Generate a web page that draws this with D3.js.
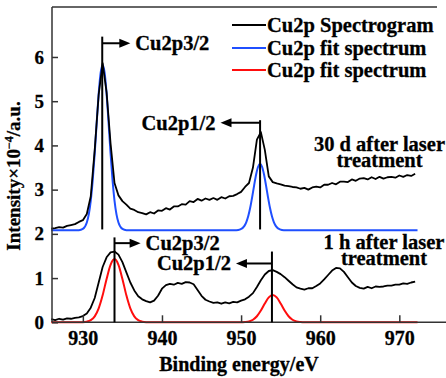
<!DOCTYPE html>
<html>
<head>
<meta charset="utf-8">
<script src="https://cdn.jsdelivr.net/npm/d3@7"></script>
<style>
  html, body { margin: 0; padding: 0; background: #fff; }
  svg text { font-family: "Liberation Serif", "Times New Roman", serif; font-weight: bold; fill: #000;
    stroke: #000; stroke-width: 0.3px; }
</style>
</head>
<body>
<svg id="chart" width="446" height="378"></svg>
<script>
// binding energy grid of the measured spectra (eV)
var energy = d3.range(926, 972.01, 0.5)

// 30 d after laser treatment, measured (offset panel)
var spec30d = [2.12,2.13,2.15,2.14,2.18,2.20,2.22,2.27,2.31,2.45,2.85,3.90,5.15,5.86,5.20,4.05,3.15,2.87,2.74,2.66,
  2.57,2.54,2.49,2.47,2.44,2.49,2.46,2.53,2.52,2.58,2.55,2.62,2.62,2.67,2.66,2.74,2.72,2.79,2.75,2.80,
  2.77,2.81,2.77,2.83,2.80,2.85,2.86,2.90,2.95,3.06,3.15,3.50,4.13,4.30,3.90,3.30,3.17,3.14,3.12,3.09,
  3.08,3.06,3.05,3.02,3.04,3.00,3.05,3.07,3.05,3.11,3.11,3.15,3.12,3.18,3.18,3.17,3.23,3.20,3.25,3.26,
  3.23,3.28,3.24,3.29,3.25,3.28,3.29,3.27,3.32,3.29,3.33,3.31,3.36]

// 1 h after laser treatment, measured
var spec1h = [0.07,0.05,0.08,0.06,0.09,0.08,0.10,0.11,0.14,0.20,0.33,0.55,0.90,1.25,1.47,1.58,1.60,1.53,1.36,1.13,
  0.90,0.72,0.59,0.52,0.48,0.45,0.49,0.60,0.76,0.84,0.87,0.85,0.89,0.87,0.91,0.90,0.86,0.73,0.60,0.51,
  0.47,0.44,0.45,0.42,0.45,0.43,0.46,0.45,0.49,0.52,0.58,0.66,0.80,0.95,1.08,1.16,1.18,1.14,1.09,1.02,
  0.94,0.86,0.79,0.76,0.74,0.77,0.77,0.82,0.88,0.97,1.07,1.17,1.23,1.22,1.14,1.02,0.90,0.82,0.78,0.76,
  0.80,0.77,0.81,0.80,0.81,0.83,0.83,0.85,0.85,0.88,0.87,0.90,0.92]

// fit spectrum, 30 d
var fit30dE = [926,929.5,930,930.5,930.75,931,931.25,931.5,931.75,932,932.25,932.5,932.75,933,933.25,933.5,933.75,934,934.25,934.5,935,935.5,
  949.4,949.9,950.4,950.65,950.9,951.15,951.4,951.65,951.9,952.15,952.4,952.65,952.9,953.15,953.4,953.65,953.9,954.15,954.4,954.9,955.4,972.3]
var fit30d = [2.08,2.084,2.112,2.257,2.442,2.753,3.217,3.826,4.516,5.171,5.646,5.82,5.646,5.171,4.516,3.826,3.217,2.753,2.442,2.257,2.112,2.084,
  2.082,2.10,2.174,2.260,2.396,2.589,2.831,3.097,3.342,3.517,3.58,3.517,3.342,3.097,2.831,2.589,2.396,2.260,2.174,2.10,2.082,2.08]

// fit spectrum, 1 h
var fit1hE = [926,929.5,930,930.5,931,931.5,932,932.5,933,933.5,934,934.5,935,935.5,936,936.5,937,937.5,938,938.5,
  950,950.5,951,951.5,952,952.5,953,953.5,954,954.5,955,955.5,956,956.5,957,957.5,958,972.3]
var fit1h = [0,0,0.002,0.014,0.048,0.135,0.315,0.61,0.98,1.30,1.43,1.30,0.98,0.61,0.315,0.135,0.048,0.014,0.002,0,
  0,0.006,0.02,0.058,0.137,0.265,0.425,0.565,0.62,0.565,0.425,0.265,0.137,0.058,0.02,0.006,0,0]

var xTicks = [930, 940, 950, 960, 970]
var yTicks = [0, 1, 2, 3, 4, 5, 6]
var legendLabels = ["Cu2p Spectrogram", "Cu2p fit spectrum", "Cu2p fit spectrum"]
var legendColors = ["#000", "#1f4fff", "#ff0d0d"]

var svg = d3.select("#chart")
var x = d3.scaleLinear().domain([926.1, 975.9]).range([52, 446])
var y = d3.scaleLinear().domain([0, 7.13]).range([322.3, 7])

function pairs(es, vs) { return es.map(function(e, i) { return [e, vs[i]] }) }
var line = d3.line().x(function(d) { return x(d[0]) }).y(function(d) { return y(d[1]) }).curve(d3.curveMonotoneX)
var rough = d3.line().x(function(d) { return x(d[0]) }).y(function(d) { return y(d[1]) })

// fits first, measured on top
svg.append("path").attr("d", line(pairs(fit30dE, fit30d)))
  .attr("fill", "none").attr("stroke", legendColors[1]).attr("stroke-width", 2)
svg.append("path").attr("d", line(pairs(fit1hE, fit1h)))
  .attr("fill", "none").attr("stroke", legendColors[2]).attr("stroke-width", 2)
svg.append("path").attr("d", rough(pairs(energy, spec30d)))
  .attr("fill", "none").attr("stroke", "#000").attr("stroke-width", 1.8).attr("stroke-linejoin", "round")
svg.append("path").attr("d", rough(pairs(energy, spec1h)))
  .attr("fill", "none").attr("stroke", "#000").attr("stroke-width", 1.8).attr("stroke-linejoin", "round")

// axes, ticks point inward
var ax = svg.append("g").attr("transform", "translate(0,322.3)")
  .call(d3.axisBottom(x).tickValues(xTicks).tickSizeInner(-7).tickSizeOuter(0).tickPadding(9))
var ay = svg.append("g").attr("transform", "translate(52,0)")
  .call(d3.axisLeft(y).tickValues(yTicks).tickSizeInner(-6).tickSizeOuter(0).tickPadding(8))
ax.selectAll("text").style("font-size", "20px")
ay.selectAll("text").style("font-size", "19px")
svg.selectAll(".domain, .tick line").attr("stroke", "#333").attr("stroke-width", 1.5)
ax.select(".domain").attr("d", "M52,0H446")
ay.select(".domain").attr("d", "M0," + y(0) + "V7")
svg.append("line").attr("x1", 52).attr("x2", 437).attr("y1", 7).attr("y2", 7)
  .attr("stroke", "#333").attr("stroke-width", 1.5)

// axis titles
svg.append("text").attr("x", 239).attr("y", 371).attr("text-anchor", "middle")
  .style("font-size", "20px").text("Binding energy/eV")
var yt = svg.append("text").attr("transform", "translate(20,176) rotate(-90)")
  .attr("text-anchor", "middle").style("font-size", "19px")
yt.append("tspan").text("Intensity×10")
yt.append("tspan").attr("dy", -7).style("font-size", "12px").text("−4")
yt.append("tspan").attr("dy", 7).text("/a.u.")

// peak markers: energy, top, bottom, arrow height, arrow end energy, label
var markers = [
  {e: 932.45, top: 6.46, bot: 2.1, ay: 6.31, to: 936.0, label: "Cu2p3/2"},
  {e: 952.4, top: 4.57, bot: 2.1, ay: 4.51, to: 947.4, label: "Cu2p1/2"},
  {e: 934.0, top: 1.92, bot: 0, ay: 1.79, to: 937.3, label: "Cu2p3/2"},
  {e: 953.9, top: 1.60, bot: 0, ay: 1.33, to: 949.35, label: "Cu2p1/2"}
]
markers.forEach(function(m) {
  var x0 = x(m.e), x1 = x(m.to), ya = y(m.ay), dir = x1 > x0 ? 1 : -1
  svg.append("line").attr("x1", x0).attr("x2", x0).attr("y1", y(m.top)).attr("y2", y(m.bot))
    .attr("stroke", "#000").attr("stroke-width", 2)
  svg.append("line").attr("x1", x0).attr("x2", x1 - dir * 8).attr("y1", ya).attr("y2", ya)
    .attr("stroke", "#000").attr("stroke-width", 2)
  svg.append("path").attr("d", "M" + x1 + "," + ya + "L" + (x1 - dir * 11) + "," + (ya - 4.5) + "L" + (x1 - dir * 11) + "," + (ya + 4.5) + "Z")
    .attr("fill", "#000")
  svg.append("text").attr("x", x1 + dir * 5).attr("y", ya + 7)
    .attr("text-anchor", dir > 0 ? "start" : "end").style("font-size", "20.5px").text(m.label)
})

// sample notes
var notes = [
  {lines: ["30 d after laser", "treatment"], cx: 379.5, y0: 150.7},
  {lines: ["1 h after laser", "treatment"], cx: 384, y0: 249.3}
]
notes.forEach(function(n) {
  n.lines.forEach(function(t, i) {
    svg.append("text").attr("x", n.cx).attr("y", n.y0 + i * 16).attr("text-anchor", "middle")
      .style("font-size", "20.5px").text(t)
  })
})

// legend
var lg = svg.append("g")
legendLabels.forEach(function(t, i) {
  var ly = [25, 48, 70][i]
  lg.append("line").attr("x1", 232).attr("x2", 266).attr("y1", ly).attr("y2", ly)
    .attr("stroke", legendColors[i]).attr("stroke-width", 2)
  lg.append("text").attr("x", 267).attr("y", ly + 7).style("font-size", "20.5px").text(t)
})
</script>
</body>
</html>
